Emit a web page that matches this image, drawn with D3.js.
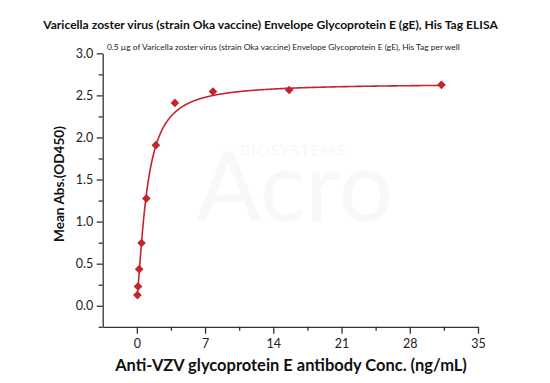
<!DOCTYPE html>
<html>
<head>
<meta charset="utf-8">
<script src="https://cdn.jsdelivr.net/npm/d3@7"></script>
<style>
  html, body { margin: 0; padding: 0; background: #fff; }
  svg { display: block; }
  text { font-family: Lato, "Open Sans", sans-serif; }
</style>
</head>
<body>
<svg id="chart" width="550" height="383"></svg>
<script>
// ---- data ----
const concentrations = [0.061, 0.122, 0.244, 0.488, 0.977, 1.953, 3.906, 7.8125, 15.625, 31.25];
const odValues = [0.127, 0.23, 0.435, 0.746, 1.276, 1.908, 2.41, 2.545, 2.564, 2.625];
// 4-parameter logistic fit: [bottom, top, EC50, hill slope]
const fitParams = [0.1, 2.64, 1.033, 1.4];
const xTicks = [0, 7, 14, 21, 28, 35];
const xMinorTicks = [3.5, 10.5, 17.5, 24.5, 31.5];
const yTicks = [0, 0.5, 1.0, 1.5, 2.0, 2.5, 3.0];
const yMinorTicks = [-0.25, 0.25, 0.75, 1.25, 1.75, 2.25, 2.75];
const titleText = "Varicella zoster virus (strain Oka vaccine) Envelope Glycoprotein E (gE), His Tag ELISA";
const subtitleText = "0.5 \u00b5g of Varicella zoster virus (strain Oka vaccine) Envelope Glycoprotein E (gE), His Tag per well";
const xLabel = "Anti-VZV glycoprotein E antibody Conc. (ng/mL)";
const yLabel = "Mean Abs.(OD450)";

const svg = d3.select("#chart");
const red = "#c0272d";
const axisColor = "#333";

const x = d3.scaleLinear().domain([-3.5, 35]).range([102.7, 478]);
const y = d3.scaleLinear().domain([-0.25, 3.0]).range([326.8, 53.3]);

function fitWidth(sel, w) {
  const len = sel.node().getComputedTextLength();
  const fs = +sel.attr("font-size");
  if (len > 0) sel.attr("font-size", fs * w / len);
  return sel;
}

// watermark (single faint text element)
const wm = svg.append("text").attr("fill", "#f8f8f8");
wm.append("tspan").attr("x", 240).attr("y", 156).attr("font-size", 16)
  .attr("letter-spacing", 1).text("BIOSYSTEMS");
wm.append("tspan").attr("x", 196).attr("y", 221).attr("font-size", 96)
  .attr("font-weight", 400).text("Acro");

// fitted curve
const [A, D, C, B] = fitParams;
const f = v => A + (D - A) / (1 + Math.pow(C / v, B));
const curveX = d3.range(0, 601).map(i => 31.25 * Math.pow(i / 600, 2));
const line = d3.line().x(v => x(v)).y(v => y(v <= 0 ? A : f(v)));
svg.append("path").datum(curveX).attr("d", line)
  .attr("fill", "none").attr("stroke", red).attr("stroke-width", 1.6);

// points
svg.append("g").selectAll("path").data(concentrations).join("path")
  .attr("d", d3.symbol(d3.symbolDiamond2, 48))
  .attr("transform", (c, i) => `translate(${x(c)},${y(odValues[i])})`)
  .attr("fill", red);

// axes
const xAxis = d3.axisBottom(x).tickValues(xTicks).tickSize(7).tickSizeOuter(0).tickFormat(d3.format("d"));
const gx = svg.append("g").attr("transform", `translate(0,${y(-0.25)})`).call(xAxis);
const xMinor = d3.axisBottom(x).tickValues(xMinorTicks).tickSize(4).tickSizeOuter(0).tickFormat("");
const gxm = svg.append("g").attr("transform", `translate(0,${y(-0.25)})`).call(xMinor);
gxm.select(".domain").remove();

const yAxis = d3.axisLeft(y).tickValues(yTicks).tickSize(6).tickSizeOuter(0).tickFormat(d3.format(".1f"));
const gy = svg.append("g").attr("transform", `translate(${x(-3.5)},0)`).call(yAxis);
const yMinor = d3.axisLeft(y).tickValues(yMinorTicks).tickSize(4).tickSizeOuter(0).tickFormat("");
const gym = svg.append("g").attr("transform", `translate(${x(-3.5)},0)`).call(yMinor);
gym.select(".domain").remove();

[gx, gxm, gy, gym].forEach(g => {
  g.selectAll(".domain").attr("stroke", axisColor).attr("stroke-width", 1.3);
  g.selectAll(".tick line").attr("stroke", axisColor).attr("stroke-width", 1.3);
  g.selectAll(".tick text").attr("fill", "#222").attr("font-size", 12.5)
    .attr("font-family", "Lato, 'Open Sans', sans-serif");
});
gx.selectAll(".tick text").attr("dy", "0.95em").attr("y", 9);
gy.selectAll(".tick text").attr("x", -9.5);

// titles
fitWidth(svg.append("text").attr("x", 270.5).attr("y", 29).attr("text-anchor", "middle")
  .attr("font-size", 13).attr("font-weight", 700).attr("fill", "#111").text(titleText), 455);
fitWidth(svg.append("text").attr("x", 107).attr("y", 49.5)
  .attr("font-size", 8).attr("fill", "#222").text(subtitleText), 353);
fitWidth(svg.append("text").attr("x", 291).attr("y", 371).attr("text-anchor", "middle")
  .attr("font-size", 16).attr("font-weight", 700).attr("fill", "#111").text(xLabel), 352);
fitWidth(svg.append("text").attr("transform", "translate(63.5,184) rotate(-90)").attr("text-anchor", "middle")
  .attr("font-size", 16).attr("font-weight", 700).attr("fill", "#111").text(yLabel), 116);
</script>
</body>
</html>
